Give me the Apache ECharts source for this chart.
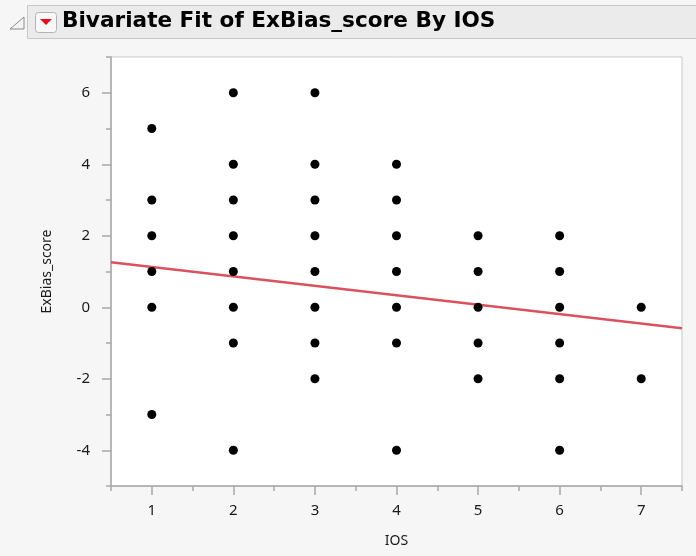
<!DOCTYPE html>
<html><head><meta charset="utf-8">
<script src="https://cdn.jsdelivr.net/npm/echarts@6/dist/echarts.min.js"></script>
<style>html,body{margin:0;padding:0;background:#f6f6f6;}#c{width:696px;height:556px;}</style>
</head><body><div id="c"></div>
<script>
// IOS categories and ExBias_score values observed at each
const iosLevels = [1, 2, 3, 4, 5, 6, 7];
const scoresAtIOS1 = [5, 3, 2, 1, 0, -3];
const scoresAtIOS2 = [6, 4, 3, 2, 1, 0, -1, -4];
const scoresAtIOS3 = [6, 4, 3, 2, 1, 0, -1, -2];
const scoresAtIOS4 = [4, 3, 2, 1, 0, -1, -4];
const scoresAtIOS5 = [2, 1, 0, -1, -2];
const scoresAtIOS6 = [2, 1, 0, -1, -2, -4];
const scoresAtIOS7 = [0, -2];
// linear fit line end points
const fitX = [0.5, 7.5];
const fitY = [1.26, -0.59];
// tick labels
const xTicks = [1, 2, 3, 4, 5, 6, 7];
const xMinorTicks = [0.5, 1.5, 2.5, 3.5, 4.5, 5.5, 6.5, 7.5];
const yTicks = [-4, -2, 0, 2, 4, 6];
const yMinorTicks = [-5, -3, -1, 1, 3, 5, 7];

const allScores = [scoresAtIOS1, scoresAtIOS2, scoresAtIOS3, scoresAtIOS4, scoresAtIOS5, scoresAtIOS6, scoresAtIOS7];
const points = [];
iosLevels.forEach((x, i) => allScores[i].forEach(y => points.push([x, y])));
const fitLine = fitX.map((x, i) => [x, fitY[i]]);

const FONT = 'Noto Sans';
const axisCol = '#a8a8a8';
const textCol = '#1a1a1a';

const chart = echarts.init(document.getElementById('c'), null, {renderer: 'canvas'});
chart.setOption({
  backgroundColor: '#f6f6f6',
  animation: false,
  grid: {left: 111, right: 14, top: 57, bottom: 70, show: true, backgroundColor: '#fff', borderColor: '#c8c8c8', borderWidth: 1},
  xAxis: [{
    type: 'value', min: 0.5, max: 7.5, splitLine: {show: false},
    name: 'IOS', nameLocation: 'middle', nameGap: 48,
    nameTextStyle: {fontFamily: FONT, fontSize: 14, color: textCol},
    axisLine: {show: true, onZero: false, lineStyle: {color: axisCol, width: 1.5}},
    axisTick: {show: true, customValues: xTicks, length: 9, lineStyle: {color: axisCol, width: 1.5}},
    axisLabel: {customValues: xTicks, margin: 17, fontFamily: FONT, fontSize: 15, color: textCol}
  }, {
    type: 'value', min: 0.5, max: 7.5, position: 'bottom', splitLine: {show: false},
    axisLine: {show: false, onZero: false},
    axisTick: {show: true, customValues: xMinorTicks, length: 5, lineStyle: {color: axisCol, width: 1.5}},
    axisLabel: {show: false}
  }],
  yAxis: [{
    type: 'value', min: -5, max: 7, splitLine: {show: false},
    name: 'ExBias_score', nameLocation: 'middle', nameGap: 57,
    nameTextStyle: {fontFamily: FONT, fontSize: 14, color: textCol},
    axisLine: {show: true, onZero: false, lineStyle: {color: axisCol, width: 1.5}},
    axisTick: {show: true, customValues: yTicks, length: 9, lineStyle: {color: axisCol, width: 1.5}},
    axisLabel: {customValues: yTicks, margin: 21, fontFamily: FONT, fontSize: 15, color: textCol}
  }, {
    type: 'value', min: -5, max: 7, position: 'left', splitLine: {show: false},
    axisLine: {show: false, onZero: false},
    axisTick: {show: true, customValues: yMinorTicks, length: 5, lineStyle: {color: axisCol, width: 1.5}},
    axisLabel: {show: false}
  }],
  series: [{
    type: 'line', data: fitLine, symbol: 'none', z: 3,
    lineStyle: {color: '#d9525e', width: 2.5}
  }, {
    type: 'scatter', data: points, symbol: 'circle', symbolSize: 9, z: 4,
    itemStyle: {color: '#000', opacity: 1}
  }],
  graphic: [
    {type: 'rect', shape: {x: 27.5, y: 5.5, width: 680, height: 33}, style: {fill: '#ebebeb', stroke: '#c8c8c8', lineWidth: 1}},
    {type: 'polygon', shape: {points: [[10, 29], [24, 29], [24, 17]]}, style: {fill: '#f4f4f4', stroke: '#8a8a8a', lineWidth: 1}},
    {type: 'rect', shape: {x: 35.5, y: 12.5, width: 21, height: 20, r: 3}, style: {fill: '#f8f8f8', stroke: '#b4b4b4', lineWidth: 1}},
    {type: 'polygon', shape: {points: [[40, 19], [52, 19], [46, 25]]}, style: {fill: '#e0101e'}},
    {type: 'text', left: 62, top: 10, style: {text: 'Bivariate Fit of ExBias_score By IOS', fontFamily: 'DejaVu Sans', fontWeight: 'bold', fontSize: 21.6, fill: '#000'}}
  ]
});
</script></body></html>
